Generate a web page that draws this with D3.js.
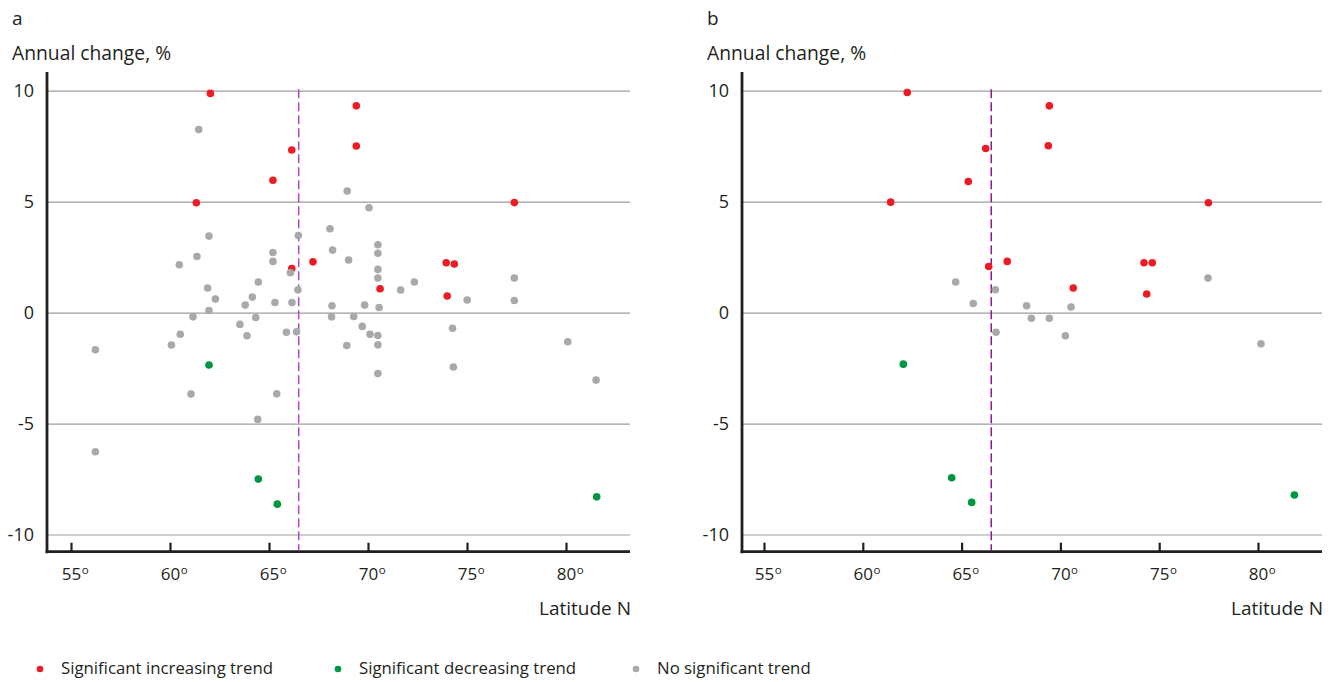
<!DOCTYPE html>
<html><head><meta charset="utf-8">
<script src="https://cdnjs.cloudflare.com/ajax/libs/d3/7.8.5/d3.min.js"></script>
<style>
body{margin:0;background:#fff;}
svg text{font-family:"Open Sans",sans-serif;fill:#231f20;}
</style></head>
<body><svg id="c" width="1335" height="682"></svg>
<script>
// ---------- DATA ----------
const yTicks = [-10, -5, 0, 5, 10];
const xTicks = [55, 60, 65, 70, 75, 80];
const arcticCircle = 66.5;
const categories = ["Significant increasing trend", "Significant decreasing trend", "No significant trend"];

// Panel a: [latitude, annual change %]
const aIncreasing = [[62.04,9.90],[66.15,7.35],[65.20,5.99],[61.33,4.97],[67.22,2.31],[66.15,2.01],
  [69.41,9.34],[69.41,7.53],[77.39,4.98],[73.95,2.27],[74.36,2.21],[70.61,1.10],[74.0,0.77]];
const aDecreasing = [[61.97,-2.34],[64.46,-7.48],[65.42,-8.61],[81.55,-8.28]];
const aNoTrend = [[61.45,8.27],[68.08,3.80],[61.97,3.47],[66.48,3.50],[68.21,2.84],[65.20,2.73],[61.36,2.55],
  [65.20,2.33],[60.47,2.18],[66.08,1.82],[64.46,1.40],[61.90,1.13],[66.46,1.05],[62.29,0.63],[64.16,0.72],
  [63.80,0.36],[65.30,0.48],[66.16,0.48],[68.18,0.33],[61.97,0.12],[61.16,-0.17],[64.33,-0.20],[68.16,-0.17],
  [63.53,-0.51],[60.52,-0.95],[63.89,-1.02],[65.88,-0.86],[66.39,-0.84],[60.07,-1.44],[56.23,-1.65],
  [61.06,-3.65],[65.39,-3.64],[64.43,-4.79],[56.23,-6.25],[68.95,5.50],[70.05,4.75],[70.50,3.08],[70.50,2.70],
  [69.02,2.39],[70.50,1.97],[70.50,1.58],[77.39,1.58],[72.34,1.40],[71.65,1.04],[75.01,0.59],[77.39,0.57],
  [69.83,0.36],[70.56,0.25],[69.28,-0.15],[69.71,-0.60],[70.10,-0.95],[70.50,-1.01],[68.93,-1.46],
  [70.50,-1.43],[74.27,-0.68],[80.09,-1.29],[70.50,-2.72],[74.31,-2.43],[81.52,-3.02]];

// Panel b
const bIncreasing = [[62.25,9.94],[66.22,7.42],[65.34,5.93],[61.41,5.00],[66.37,2.10],[67.31,2.33],
  [69.44,9.34],[69.39,7.54],[77.49,4.97],[74.23,2.27],[74.65,2.27],[70.65,1.13],[74.37,0.86]];
const bDecreasing = [[62.05,-2.30],[64.50,-7.42],[65.51,-8.53],[81.84,-8.20]];
const bNoTrend = [[64.70,1.40],[66.71,1.05],[65.59,0.43],[68.29,0.33],[70.54,0.27],[68.53,-0.23],
  [69.44,-0.23],[70.25,-1.02],[80.15,-1.38],[77.47,1.58],[66.74,-0.86]];

// ---------- STYLE ----------
const colors = ["#ed1c24", "#00953f", "#a7a9ac"];
const svg = d3.select("#c");

function drawPanel(cfg) {
  const g = svg.append("g");
  const x = d3.scaleLinear().domain([55, 80]).range([cfg.t55, cfg.t80]);
  const y = d3.scaleLinear().domain([-10, 10]).range([535, 91.2]);
  const axisY = 551.7, topY = 72;

  // panel letter & y title
  g.append("text").attr("x", cfg.left - 35).attr("y", 25).style("font-size", "19px").text(cfg.letter);
  g.append("text").attr("x", cfg.left - 35).attr("y", 60).style("font-size", "19.3px").text("Annual change, %");

  // gridlines
  g.selectAll("line.grid").data(yTicks).join("line").attr("class", "grid")
    .attr("x1", cfg.left).attr("x2", cfg.right).attr("y1", d => y(d)).attr("y2", d => y(d))
    .attr("stroke", "#9d9d9d").attr("stroke-width", 1.2);

  // y axis labels
  const ya = g.append("g").attr("transform", `translate(${cfg.left},0)`)
    .call(d3.axisLeft(y).tickValues(yTicks).tickSize(0).tickPadding(13).tickFormat(d3.format("d")));
  ya.select(".domain").remove();
  ya.selectAll("text").style("font-size", "18px").style("font-family", "Open Sans").attr("fill", "#231f20")
    .text(d => String(d).replace("\u2212", "-"));

  // x axis ticks
  const xa = g.append("g").attr("transform", `translate(0,${axisY})`)
    .call(d3.axisBottom(x).tickValues(xTicks).tickSize(-9).tickFormat(""));
  xa.select(".domain").remove();
  xa.selectAll(".tick line").attr("stroke", "#231f20").attr("stroke-width", 2.2);
  xa.selectAll(".tick").each(function(d) {
    const t = d3.select(this);
    t.select("text").remove();
    const txt = t.append("text").attr("y", 28.3).attr("text-anchor", "start").style("font-size", "17px");
    const num = txt.append("tspan").text(d);
    txt.append("tspan").attr("dx", 0.5).attr("dy", -6.2).style("font-size", "11.5px").text("o");
    const w = num.node().getComputedTextLength();
    txt.attr("x", -w / 2);
  });

  // axes lines
  g.append("line").attr("x1", cfg.left).attr("x2", cfg.left).attr("y1", topY).attr("y2", axisY + 1.5)
    .attr("stroke", "#231f20").attr("stroke-width", 2.8);
  g.append("line").attr("x1", cfg.left - 1.4).attr("x2", cfg.right).attr("y1", axisY).attr("y2", axisY)
    .attr("stroke", "#231f20").attr("stroke-width", 2.8);

  // arctic circle
  g.append("line").attr("x1", x(arcticCircle)).attr("x2", x(arcticCircle))
    .attr("y1", y(10) - 2).attr("y2", axisY - 1)
    .attr("stroke", cfg.dash).attr("stroke-width", 1.5).attr("stroke-dasharray", "9,4");

  // x title
  g.append("text").attr("x", cfg.right + 1).attr("y", 615).attr("text-anchor", "end")
    .style("font-size", "19px").text("Latitude N");

  // points
  cfg.series.forEach((s, i) => {
    g.append("g").selectAll("circle").data(s).join("circle")
      .attr("cx", d => x(d[0])).attr("cy", d => y(d[1])).attr("r", 3.8)
      .attr("fill", colors[i]);
  });
}

drawPanel({letter: "a", left: 47, right: 630, t55: 71, t80: 566, dash: "#ac4cbf",
  series: [aIncreasing, aDecreasing, aNoTrend]});
drawPanel({letter: "b", left: 742, right: 1322, t55: 764, t80: 1258, dash: "#8e1a92",
  series: [bIncreasing, bDecreasing, bNoTrend]});

// legend
const legX = [40, 338, 636];
const leg = svg.append("g").selectAll("g").data(categories).join("g")
  .attr("transform", (d, i) => `translate(${legX[i]},669)`);
leg.append("circle").attr("r", 3.3).attr("fill", (d, i) => colors[i]);
leg.append("text").attr("x", 21).attr("y", 4.5).style("font-size", "16.8px").text(d => d);
</script></body></html>
